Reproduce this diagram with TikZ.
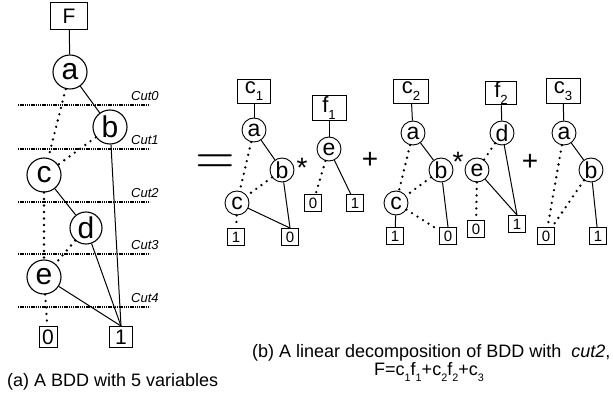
\documentclass[tikz,border=0pt]{standalone}
\usepackage[no-math]{fontspec}
\setmainfont{Liberation Sans}
\usepackage{graphicx}
\newcommand\lowsub[1]{\raisebox{-0.35em}{\scalebox{0.6}{#1}}}
\tikzset{
 lnode/.style={circle,draw,line width=1.1pt,inner sep=0pt,minimum size=34pt,font=\fontsize{30}{30}\selectfont},
 rnode/.style={circle,draw,line width=0.9pt,inner sep=0pt,minimum size=24pt,font=\fontsize{23}{23}\selectfont},
 lbox/.style={draw,line width=1pt,inner sep=0pt,font=\fontsize{21}{21}\selectfont},
 rbox/.style={draw,line width=0.9pt,inner sep=0pt,minimum width=33pt,minimum height=24pt,font=\fontsize{22}{22}\selectfont},
 tbox/.style={draw,line width=0.9pt,inner sep=0pt,minimum width=17pt,minimum height=17pt,font=\fontsize{15}{15}\selectfont},
 hi/.style={line width=1pt},
 lo/.style={line width=2.6pt,line cap=round,dash pattern=on 0pt off 6.5pt},
 cutline/.style={line width=2.3pt,dash pattern=on 1.3pt off 0.9pt},
 cutlabel/.style={font=\fontsize{13}{13}\selectfont\itshape,anchor=base west,inner sep=0pt},
 op/.style={inner sep=0pt,font=\fontsize{28}{28}\selectfont},
 captext/.style={inner sep=0pt,font=\fontsize{18}{20}\selectfont},
}
\begin{document}
\begin{tikzpicture}[x=1pt,y=-1pt]
\useasboundingbox (0,0) rectangle (613,395);
% ---------- (a) ----------
\node[lbox,minimum width=37pt,minimum height=27pt] (F) at (69,16) {F};
\node[lnode] (a) at (70,72) {a};
\node[lnode] (b) at (110,127) {b};
\node[lnode] (c) at (44,175) {c};
\node[lnode,minimum size=32pt] (d) at (86,228) {d};
\node[lnode] (e) at (44,277) {e};
\node[lbox,minimum width=18pt,minimum height=21pt] (z) at (48,337) {0};
\node[lbox,minimum width=23pt,minimum height=21pt] (o) at (121,337) {1};
\foreach \y/\k in {105/0,149/1,202/2,254/3,307/4}{
  \draw[cutline] (18,\y) -- (150,\y);
  \node[cutlabel] (cut\k) at (131,\y-4) {Cut\k};
}
\draw[hi] (F) -- (a);
\draw[hi] (a) -- (b);
\draw[lo] (a) -- (c);
\draw[lo] (b) -- (c);
\draw[hi] (b) -- (o.north);
\draw[hi] (c) -- (d);
\draw[lo] (c) -- (e);
\draw[lo] (d) -- (e);
\draw[hi] (d) -- (o.north);
\draw[hi] (e) -- (o.north);
\draw[lo] (e) -- (z);
\node[captext,anchor=base west] (capa) at (7,386) {(a) A BDD with 5 variables};
% ---------- equals ----------
\node[inner sep=0pt] (eq) at (215,164) {\scalebox{5.1}{$=$}};
% ---------- group 1 ----------
\node[rbox] (c1) at (254,91) {c\lowsub{1}};
\node[rnode] (a1) at (254,130) {a};
\node[rnode] (b1) at (282,170) {b};
\node[rnode] (cc1) at (237,203) {c};
\node[tbox] (t11) at (236,237) {1};
\node[tbox] (t10) at (290,237) {0};
\node[op] (s1) at (302,168) {*};
\draw[hi] (c1) -- (a1);
\draw[hi] (a1) -- (b1);
\draw[lo] (a1) -- (cc1);
\draw[lo] (b1) -- (cc1);
\draw[hi] (b1) -- (t10.north);
\draw[hi] (cc1) -- (t10.north);
\draw[lo] (cc1) -- (t11);
\node[rbox,minimum width=34pt,minimum height=25pt] (f1) at (329,108) {f\lowsub{1}};
\node[rnode] (e1) at (329,149) {e};
\node[tbox] (u0) at (313,203) {0};
\node[tbox] (u1) at (355,203) {1};
\draw[hi] (f1) -- (e1);
\draw[lo] (e1) -- (u0);
\draw[hi] (e1) -- (u1);
\node[op] (p1) at (370,160) {+};
% ---------- group 2 ----------
\node[rbox,minimum width=35pt] (c2) at (411,91) {c\lowsub{2}};
\node[rnode] (a2) at (413,133) {a};
\node[rnode] (b2) at (441,170) {b};
\node[op] (s2) at (458,162) {*};
\node[rnode] (cc2) at (396,203) {c};
\node[tbox] (t21) at (395,236) {1};
\node[tbox] (t20) at (448,236) {0};
\draw[hi] (c2) -- (a2);
\draw[hi] (a2) -- (b2);
\draw[lo] (a2) -- (cc2);
\draw[lo] (b2) -- (cc2);
\draw[hi] (b2) -- (t20.north);
\draw[hi] (cc2) -- (t21);
\draw[lo] (cc2) -- (t20);
\node[rbox,minimum width=31pt,minimum height=23pt] (f2) at (501,93) {f\lowsub{2}};
\node[rnode] (d2) at (502,133) {d};
\node[rnode] (e2) at (477,170) {e};
\node[tbox] (v0) at (476,229) {0};
\node[tbox] (v1) at (517,224) {1};
\draw[hi] (f2) -- (d2);
\draw[lo] (d2) -- (e2);
\draw[hi] (d2) -- (v1.north);
\draw[hi] (e2) -- (v1.north);
\draw[lo] (e2) -- (v0);
\node[op] (p2) at (530,162) {+};
% ---------- group 3 ----------
\node[rbox,minimum width=34pt,minimum height=25pt] (c3) at (563,91) {c\lowsub{3}};
\node[rnode] (a3) at (564,133) {a};
\node[rnode] (b3) at (591,170) {b};
\node[tbox] (w0) at (546,236) {0};
\node[tbox] (w1) at (598,236) {1};
\draw[hi] (c3) -- (a3);
\draw[hi] (a3) -- (b3);
\draw[lo] (a3) -- (w0);
\draw[lo] (b3) -- (w0);
\draw[hi] (b3) -- (w1);
% ---------- caption (b) ----------
\node[captext,anchor=base west] (capb1) at (252,357) {(b) A linear decomposition of BDD with\ \ \textit{cut2},};
\node[captext,anchor=base] (capb2) at (429,375) {F=c\lowsub{1}f\lowsub{1}+c\lowsub{2}f\lowsub{2}+c\lowsub{3}};
\end{tikzpicture}
\end{document}
